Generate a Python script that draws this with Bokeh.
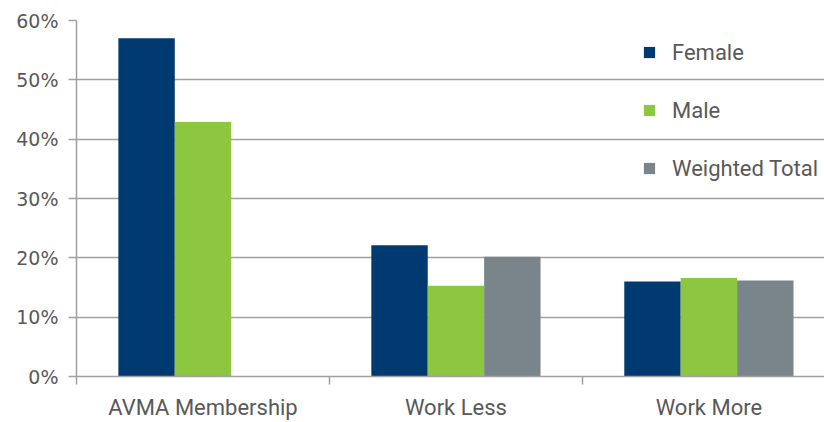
import numpy as np
from bokeh.plotting import figure
from bokeh.models import FixedTicker, Legend, LegendItem
from bokeh.embed import file_html
from bokeh.resources import INLINE

categories = ["AVMA Membership", "Work Less", "Work More"]
series = ["Female", "Male", "Weighted Total"]
female = [57.0, 22.1, 16.0]
male = [42.9, 15.3, 16.6]
weighted_total = [None, 20.2, 16.2]
colors = ["#003A70", "#8DC63F", "#7A858B"]
y_ticks = [0, 10, 20, 30, 40, 50, 60]

centers = np.arange(len(categories)) + 0.5
bar_w = 0.223
offsets = [-bar_w, 0.0, bar_w]

p = figure(width=824, height=422, output_backend="svg", toolbar_location=None,
           x_range=(0, 2.957), y_range=(0, 60),
           min_border_left=76, min_border_right=0, min_border_top=20, min_border_bottom=45)
p.outline_line_color = None
p.background_fill_color = "white"

renderers = []
for vals, off, col in zip([female, male, weighted_total], offsets, colors):
    xs = [c + off for c, v in zip(centers, vals) if v is not None]
    tops = [v for v in vals if v is not None]
    r = p.vbar(x=xs, top=tops, width=bar_w, bottom=0, fill_color=col, line_color=None)
    renderers.append(r)

grid_col = "#A0A0A0"
# y axis
p.yaxis.ticker = FixedTicker(ticks=y_ticks)
p.yaxis.major_label_overrides = {t: f"{t}%" for t in y_ticks}
p.yaxis.axis_line_color = grid_col
p.yaxis.axis_line_width = 1.5
p.yaxis.major_tick_line_color = grid_col
p.yaxis.major_tick_line_width = 1.5
p.yaxis.major_tick_in = 0
p.yaxis.major_tick_out = 8
p.yaxis.minor_tick_line_color = None
p.yaxis.major_label_standoff = 10
p.yaxis.major_label_text_font = "DejaVu Sans"
p.yaxis.major_label_text_font_size = "19px"
p.yaxis.major_label_text_color = "#595959"

# x axis
p.xaxis.ticker = FixedTicker(ticks=list(centers), minor_ticks=[0, 1, 2, 3])
p.xaxis.major_label_overrides = {float(c): name for c, name in zip(centers, categories)}
p.xaxis.axis_line_color = grid_col
p.xaxis.axis_line_width = 1.5
p.xaxis.major_tick_line_color = None
p.xaxis.minor_tick_line_color = grid_col
p.xaxis.minor_tick_line_width = 1.5
p.xaxis.minor_tick_in = 0
p.xaxis.minor_tick_out = 8
p.xaxis.major_label_standoff = 10
p.xaxis.major_label_text_font = "Roboto"
p.xaxis.major_label_text_font_size = "22px"
p.xaxis.major_label_text_color = "#595959"

p.xgrid.grid_line_color = None
p.ygrid.grid_line_color = grid_col
p.ygrid.grid_line_width = 1.5

items = [LegendItem(label=s, renderers=[r]) for s, r in zip(series, renderers)]
legend = Legend(items=items, location=(566, 194), orientation="vertical",
                padding=0, margin=0, spacing=30, label_height=28,
                glyph_height=14, glyph_width=14, label_standoff=16,
                border_line_color=None, background_fill_alpha=0,
                label_text_font="Roboto", label_text_font_size="22px",
                label_text_color="#595959")
p.add_layout(legend)

open("out.html", "w").write(file_html(p, INLINE))
